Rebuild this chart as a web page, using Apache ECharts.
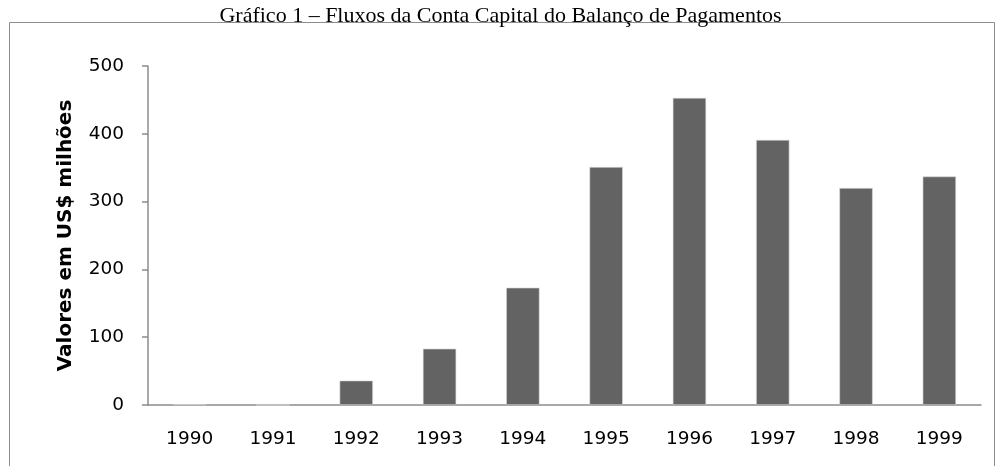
<!DOCTYPE html>
<html>
<head>
<meta charset="utf-8">
<script src="https://cdn.jsdelivr.net/npm/echarts@6/dist/echarts.min.js"></script>
<style>
  html, body { margin: 0; padding: 0; background: #fff; }
  #chart { width: 1001px; height: 466px; }
</style>
</head>
<body>
<div id="chart"></div>
<script>
// dados do gráfico
const anos = ["1990", "1991", "1992", "1993", "1994", "1995", "1996", "1997", "1998", "1999"];
const valores = [1, 0, 36, 83, 173, 351, 453, 391, 320, 337];
const tituloGrafico = "Gráfico 1 – Fluxos da Conta Capital do Balanço de Pagamentos";
const nomeEixoY = "Valores em US$ milhões";

const chart = echarts.init(document.getElementById("chart"));
const option = {
  backgroundColor: "#fff",
  animation: false,
  title: {
    text: tituloGrafico,
    left: "center",
    top: 0,
    textStyle: {
      fontFamily: "Liberation Serif",
      fontWeight: "normal",
      fontSize: 22,
      color: "#000",
    },
  },
  graphic: [
    {
      type: "rect",
      shape: { x: 9.5, y: 22.5, width: 985, height: 500 },
      style: { fill: "none", stroke: "#8c8c8c", lineWidth: 1 },
      silent: true,
    },
  ],
  grid: { left: 148, right: 20, top: 66, bottom: 61 },
  xAxis: {
    type: "category",
    data: anos,
    axisLine: { lineStyle: { color: "#8c8c8c", width: 1.5 } },
    axisTick: { length: 6, lineStyle: { color: "#8c8c8c", width: 1.5 } },
    axisLabel: { fontFamily: "DejaVu Sans", fontSize: 18.5, color: "#000", margin: 25 },
  },
  yAxis: {
    type: "value",
    min: 0,
    max: 500,
    interval: 100,
    name: nomeEixoY,
    nameLocation: "middle",
    nameGap: 72,
    nameMoveOverlap: false,
    nameTextStyle: { fontFamily: "DejaVu Sans", fontWeight: "bold", fontSize: 20, color: "#000" },
    axisLine: { show: true, lineStyle: { color: "#8c8c8c", width: 1.5 } },
    axisTick: { show: true, length: 6, lineStyle: { color: "#8c8c8c", width: 1.5 } },
    axisLabel: { fontFamily: "DejaVu Sans", fontSize: 18.5, color: "#000", margin: 24 },
    splitLine: { show: false },
  },
  series: [
    {
      type: "bar",
      data: valores,
      barWidth: "40%",
      itemStyle: { color: "#636363", borderColor: "#d8d8d8", borderWidth: 0.6 },
    },
  ],
};
chart.setOption(option);
</script>
</body>
</html>
